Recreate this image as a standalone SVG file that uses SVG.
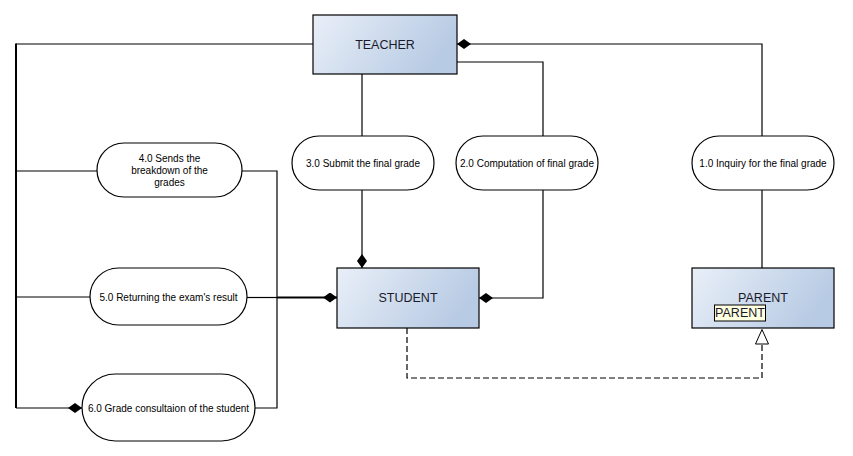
<svg xmlns="http://www.w3.org/2000/svg" width="853" height="456" viewBox="0 0 853 456">
<defs>
<linearGradient id="g" x1="0" y1="0" x2="1" y2="0.3">
<stop offset="0" stop-color="#e9eff8"/>
<stop offset="1" stop-color="#b8cbe4"/>
</linearGradient>
<marker id="dia" viewBox="0 0 14 10" refX="14" refY="5" markerWidth="14" markerHeight="10" markerUnits="userSpaceOnUse" orient="auto">
<path d="M0,5 L7,0 L14,5 L7,10 Z" fill="#000"/>
</marker>
</defs>
<style>
.box{fill:url(#g);stroke:#000;stroke-width:1.2}
.pill{fill:#fff;stroke:#000;stroke-width:1.2}
.bt{font-family:"Liberation Sans",Arial,sans-serif;font-size:12.5px;fill:#1a1a2a;text-anchor:middle}
.pt{font-family:"Liberation Sans",Arial,sans-serif;font-size:10px;fill:#000;text-anchor:middle}
.ln{fill:none;stroke:#000;stroke-width:1.2}
.dash{fill:none;stroke:#000;stroke-width:1.2;stroke-dasharray:6,3}
</style>
<g id="connectors">
<path class="ln" d="M313,44 H16"/>
<path class="ln" d="M16,43.5 V408" style="stroke-width:2"/>
<path class="ln" d="M16,408 H82" marker-end="url(#dia)"/>
<path class="ln" d="M16,171 H97"/>
<path class="ln" d="M16,297 H90"/>
<path class="ln" d="M762,136 V44 H457" marker-end="url(#dia)"/>
<path class="ln" d="M457,62 H543 V136"/>
<path class="ln" d="M362,74 V136"/>
<path class="ln" d="M362,190 V268" marker-end="url(#dia)"/>
<path class="ln" d="M543,190 V298 H479" marker-end="url(#dia)"/>
<path class="ln" d="M242,171 H277 V408 H255"/>
<path class="ln" d="M247,297.5 H277"/>
<path class="ln" d="M277,297.5 H337" style="stroke-width:2.2" marker-end="url(#dia)"/>
<path class="ln" d="M762,190 V268"/>
<path class="dash" d="M407,328 V378 H762 V344"/>
<path d="M762,329.5 L768.5,344 L755.5,344 Z" fill="#fff" stroke="#000" stroke-width="1"/>
</g>
<g id="teacher">
<rect class="box" x="313" y="15" width="144" height="59"/>
<text class="bt" x="385" y="49">TEACHER</text>
</g>
<g id="student">
<rect class="box" x="337" y="268" width="142" height="60"/>
<text class="bt" x="408" y="302">STUDENT</text>
</g>
<g id="parent">
<rect class="box" x="692" y="268" width="142" height="60"/>
<text class="bt" x="763" y="302">PARENT</text>
<rect x="714.5" y="305" width="51" height="16" fill="#ffffe1" stroke="#000" stroke-width="1"/>
<text class="bt" x="740" y="317">PARENT</text>
</g>
<g id="p1">
<rect class="pill" x="692" y="136" width="142" height="54" rx="27"/>
<text class="pt" x="763" y="166.5">1.0 Inquiry for the final grade</text>
</g>
<g id="p2">
<rect class="pill" x="456" y="136" width="142" height="54" rx="27"/>
<text class="pt" x="527" y="166.5">2.0 Computation of final grade</text>
</g>
<g id="p3">
<rect class="pill" x="292" y="136" width="142" height="54" rx="27"/>
<text class="pt" x="363" y="166.5">3.0 Submit the final grade</text>
</g>
<g id="p4">
<rect class="pill" x="97" y="143" width="145" height="54" rx="27"/>
<text class="pt" x="169.5" y="162">4.0 Sends the</text>
<text class="pt" x="169.5" y="174">breakdown of the</text>
<text class="pt" x="169.5" y="186">grades</text>
</g>
<g id="p5">
<rect class="pill" x="90" y="268" width="157" height="57" rx="28.5"/>
<text class="pt" x="168.5" y="301">5.0 Returning the exam's result</text>
</g>
<g id="p6">
<rect class="pill" x="82" y="374" width="173" height="67" rx="33.5"/>
<text class="pt" x="168.5" y="411.5">6.0 Grade consultaion of the student</text>
</g>
</svg>
